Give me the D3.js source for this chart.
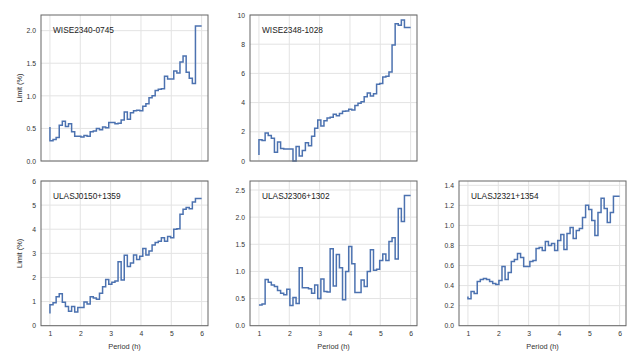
<!DOCTYPE html>
<html>
<head>
<meta charset="utf-8">
<script src="https://cdn.jsdelivr.net/npm/d3@7"></script>
<style>
  body { margin: 0; background: #fff; }
  svg { font-family: "Liberation Sans", Arial, sans-serif; }
</style>
</head>
<body>
<div id="chart"></div>
<script>
//Data
var periods = [1.000, 1.102, 1.204, 1.306, 1.408, 1.510, 1.612, 1.714, 1.816, 1.918,
	2.020, 2.122, 2.224, 2.327, 2.429, 2.531, 2.633, 2.735, 2.837, 2.939,
	3.041, 3.143, 3.245, 3.347, 3.449, 3.551, 3.653, 3.755, 3.857, 3.959,
	4.061, 4.163, 4.265, 4.367, 4.469, 4.571, 4.673, 4.776, 4.878, 4.980,
	5.082, 5.184, 5.286, 5.388, 5.490, 5.592, 5.694, 5.796, 5.898, 6.000];

var names = ["WISE2340-0745", "WISE2348-1028", "ULASJ0150+1359", "ULASJ2306+1302", "ULASJ2321+1354"];

var wise2340 = [0.52, 0.31, 0.33, 0.36, 0.55, 0.61, 0.53, 0.57, 0.45, 0.38,
	0.38, 0.37, 0.39, 0.38, 0.45, 0.46, 0.50, 0.48, 0.52, 0.51,
	0.59, 0.59, 0.57, 0.58, 0.63, 0.75, 0.64, 0.74, 0.77, 0.78,
	0.77, 0.84, 0.88, 0.97, 1.00, 1.08, 1.10, 1.11, 1.30, 1.26,
	1.26, 1.38, 1.35, 1.52, 1.61, 1.36, 1.27, 1.19, 2.07, 2.07];

var wise2348 = [0.41, 1.45, 1.40, 1.92, 1.75, 1.55, 0.60, 1.30, 0.85, 0.82,
	0.82, 0.82, 0.00, 1.00, 0.35, 0.72, 1.25, 1.05, 1.70, 2.25,
	2.80, 2.40, 2.75, 2.95, 3.00, 3.20, 3.10, 3.25, 3.40, 3.42,
	3.55, 3.50, 3.80, 3.95, 4.05, 4.40, 4.65, 4.45, 4.60, 5.25,
	5.30, 5.75, 5.80, 6.10, 7.95, 9.40, 9.30, 9.65, 9.15, 9.15];

var ulas0150 = [0.51, 0.87, 0.95, 1.20, 1.33, 0.97, 0.80, 0.60, 0.80, 0.57,
	0.75, 0.75, 0.98, 0.90, 1.20, 1.15, 1.10, 1.35, 1.62, 1.92,
	1.72, 1.80, 1.85, 2.65, 1.90, 2.92, 2.45, 2.60, 2.93, 2.75,
	2.88, 3.20, 2.93, 3.10, 3.35, 3.45, 3.50, 3.65, 3.50, 3.70,
	3.65, 4.00, 4.02, 4.62, 4.83, 4.90, 4.85, 5.13, 5.27, 5.27];

var ulas2306 = [0.38, 0.38, 0.40, 0.85, 0.80, 0.75, 0.72, 0.65, 0.60, 0.57,
	0.67, 0.37, 0.52, 0.41, 1.07, 0.70, 0.70, 0.68, 0.60, 0.75,
	0.50, 0.86, 0.63, 0.62, 1.42, 0.73, 1.31, 1.07, 0.48, 1.00,
	1.46, 1.14, 0.61, 0.61, 0.84, 0.72, 1.00, 1.40, 1.02, 1.04,
	1.20, 1.32, 1.20, 1.55, 1.62, 1.23, 2.16, 1.92, 2.40, 2.40];

var ulas2321 = [0.29, 0.27, 0.34, 0.32, 0.44, 0.46, 0.47, 0.46, 0.44, 0.42,
	0.41, 0.45, 0.59, 0.46, 0.53, 0.64, 0.66, 0.72, 0.68, 0.59,
	0.59, 0.64, 0.65, 0.77, 0.78, 0.75, 0.84, 0.80, 0.82, 0.75,
	0.85, 0.91, 0.76, 0.92, 0.98, 0.87, 0.95, 0.97, 1.08, 1.20,
	1.16, 1.05, 0.90, 1.13, 1.27, 1.17, 1.03, 1.13, 1.29, 1.29];

var xTicks = [1, 2, 3, 4, 5, 6];
var yTicks = [
	[0, 0.5, 1.0, 1.5, 2.0],
	[0, 2, 4, 6, 8, 10],
	[0, 1, 2, 3, 4, 5, 6],
	[0, 0.5, 1.0, 1.5, 2.0, 2.5],
	[0, 0.2, 0.4, 0.6, 0.8, 1.0, 1.2, 1.4]
];
var yMax = [2.24, 10, 6, 2.666, 1.443];
var yFormat = [".1f", "d", "d", ".1f", ".1f"];
var series = [wise2340, wise2348, ulas0150, ulas2306, ulas2321];

var W = 644, H = 352;
var svg = d3.select("#chart").append("svg")
	.attr("width", W)
	.attr("height", H);

// panel boxes: left, top, width, height
var boxes = [
	{x: 41, y: 15, w: 167, h: 146, xlab: false, ylab: true},
	{x: 250, y: 15, w: 167, h: 146, xlab: false, ylab: false},
	{x: 41, y: 181, w: 167, h: 144.7, xlab: true, ylab: true},
	{x: 250, y: 181, w: 167, h: 144.7, xlab: true, ylab: false},
	{x: 459, y: 181, w: 167, h: 144.7, xlab: true, ylab: false}
];

boxes.forEach(function(b, p){
	var g = svg.append("g").attr("transform", "translate(" + b.x + "," + b.y + ")");

	var x = d3.scaleLinear().domain([0.705, 6.21]).range([0, b.w]);
	var y = d3.scaleLinear().domain([0, yMax[p]]).range([b.h, 0]);

	//grid
	g.selectAll(".gx").data(xTicks).enter().append("line")
		.attr("x1", function(d){ return x(d); })
		.attr("x2", function(d){ return x(d); })
		.attr("y1", 0).attr("y2", b.h)
		.style("stroke", "#e3e3e3")
		.style("stroke-width", "1px");
	g.selectAll(".gy").data(yTicks[p]).enter().append("line")
		.attr("x1", 0).attr("x2", b.w)
		.attr("y1", function(d){ return y(d); })
		.attr("y2", function(d){ return y(d); })
		.style("stroke", "#e3e3e3")
		.style("stroke-width", "1px");

	//axes (labels only, no tick marks)
	var ya = g.append("g")
		.call(d3.axisLeft(y).tickValues(yTicks[p]).tickFormat(d3.format(yFormat[p])).tickSize(0).tickPadding(5));
	ya.select(".domain").remove();
	ya.selectAll("text").style("font-size", "6.8px").style("fill", "#333").style("font-family", "Liberation Sans, Arial, sans-serif");

	if (b.xlab) {
		var xa = g.append("g")
			.attr("transform", "translate(0," + b.h + ")")
			.call(d3.axisBottom(x).tickValues(xTicks).tickFormat(d3.format("d")).tickSize(0).tickPadding(5));
		xa.select(".domain").remove();
		xa.selectAll("text").style("font-size", "6.8px").style("fill", "#333").style("font-family", "Liberation Sans, Arial, sans-serif");

		g.append("text")
			.attr("x", b.w / 2)
			.attr("y", b.h + 23)
			.attr("text-anchor", "middle")
			.style("font-size", "7.4px")
			.style("fill", "#333")
			.text("Period (h)");
	}

	if (b.ylab) {
		g.append("text")
			.attr("transform", "translate(-19," + (b.h / 2) + ") rotate(-90)")
			.attr("text-anchor", "middle")
			.style("font-size", "7.4px")
			.style("fill", "#333")
			.text("Limit (%)");
	}

	//the step line
	var pts = periods.map(function(d, i){ return [d, series[p][i]]; });
	var line = d3.line()
		.x(function(d){ return x(d[0]); })
		.y(function(d){ return y(d[1]); })
		.curve(d3.curveStepBefore);
	g.append("path")
		.datum(pts)
		.attr("d", line)
		.style("fill", "none")
		.style("stroke", "#4c72b0")
		.style("stroke-width", "1.5px")
		.style("stroke-linejoin", "miter");

	//frame
	g.append("rect")
		.attr("x", 0).attr("y", 0)
		.attr("width", b.w).attr("height", b.h)
		.style("fill", "none")
		.style("stroke", "#666")
		.style("stroke-width", "1px");

	//name
	g.append("text")
		.attr("x", 12)
		.attr("y", 17.5)
		.style("font-size", "8.3px")
		.style("fill", "#222")
		.text(names[p]);
});
</script>
</body>
</html>
